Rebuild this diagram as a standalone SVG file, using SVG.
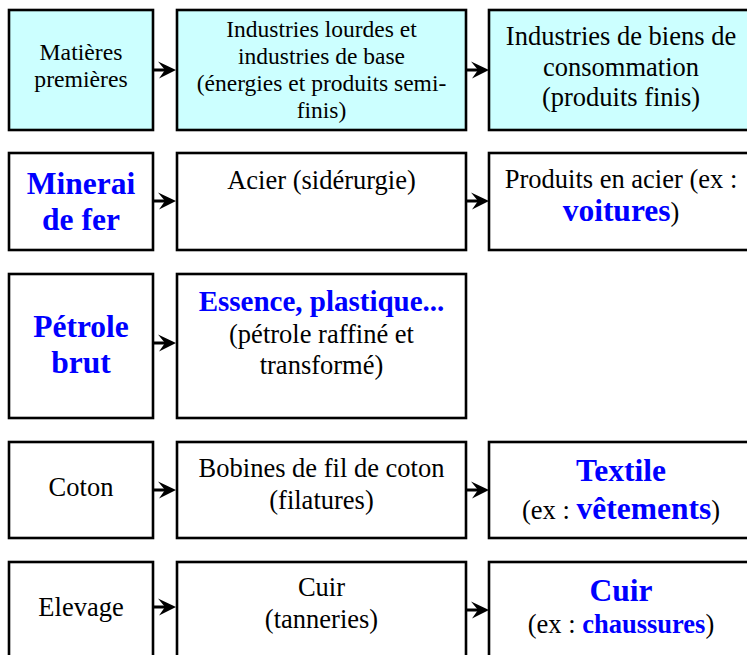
<svg xmlns="http://www.w3.org/2000/svg" width="747" height="655" viewBox="0 0 747 655">
<style>
.box{stroke:#000;stroke-width:2.6;fill:#fff}
.hd{fill:#ccffff}
text{font-family:"Liberation Serif","Times New Roman",serif;fill:#000;text-anchor:middle;font-size:26.5px}
.b{font-weight:bold;fill:#0000ff;font-size:31.5px}
.conn{stroke:#000;stroke-width:3;fill:none;marker-end:url(#ah)}
</style>
<defs>
<marker id="ah" markerUnits="userSpaceOnUse" markerWidth="19" markerHeight="18" refX="7" refY="8.5" orient="auto" overflow="visible">
<path d="M0,0 L18,8.5 L1,17 L7,8.5 Z" fill="#000"/>
</marker>
</defs>
<rect width="747" height="655" fill="#fff"/>
<g id="n-matieres"><rect class="box hd" x="9" y="10" width="144" height="120"/><text style="font-size:23.7px"><tspan x="81" y="60">Matières</tspan><tspan x="81" y="87">premières</tspan></text></g>
<g id="n-industries-base"><rect class="box hd" x="177" y="10" width="289" height="120"/><text style="font-size:23.5px"><tspan x="321.5" y="37">Industries lourdes et</tspan><tspan x="321.5" y="63.5">industries de base</tspan><tspan x="321.5" y="91">(énergies et produits semi-</tspan><tspan x="321.5" y="118">finis)</tspan></text></g>
<g id="n-biens-conso"><rect class="box hd" x="489" y="10" width="264" height="120"/><text><tspan x="621" y="44.5">Industries de biens de</tspan><tspan x="621" y="75.5">consommation</tspan><tspan x="621" y="106">(produits finis)</tspan></text></g>

<g id="n-minerai"><rect class="box" x="9" y="153" width="144" height="97"/><text class="b"><tspan x="81" y="194">Minerai</tspan><tspan x="81" y="230">de fer</tspan></text></g>
<g id="n-acier"><rect class="box" x="177" y="153" width="289" height="97"/><text x="321.5" y="189">Acier (sidérurgie)</text></g>
<g id="n-produits-acier"><rect class="box" x="489" y="153" width="264" height="97"/><text><tspan x="621" y="188">Produits en acier (ex :</tspan><tspan x="621" y="221"><tspan class="b">voitures</tspan>)</tspan></text></g>

<g id="n-petrole"><rect class="box" x="9" y="274" width="144" height="144"/><text class="b"><tspan x="81" y="337">Pétrole</tspan><tspan x="81" y="373">brut</tspan></text></g>
<g id="n-essence"><rect class="box" x="177" y="274" width="289" height="144"/><text><tspan x="321.5" y="311" class="b" style="font-size:29px">Essence, plastique...</tspan><tspan x="321.5" y="343">(pétrole raffiné et</tspan><tspan x="321.5" y="373.5">transformé)</tspan></text></g>

<g id="n-coton"><rect class="box" x="9" y="442" width="144" height="96"/><text x="81" y="496">Coton</text></g>
<g id="n-bobines"><rect class="box" x="177" y="442" width="289" height="96"/><text><tspan x="321.5" y="477">Bobines de fil de coton</tspan><tspan x="321.5" y="509">(filatures)</tspan></text></g>
<g id="n-textile"><rect class="box" x="489" y="442" width="264" height="96"/><text><tspan x="621" y="481" class="b">Textile</tspan><tspan x="621" y="519">(ex : <tspan class="b">vêtements</tspan>)</tspan></text></g>

<g id="n-elevage"><rect class="box" x="9" y="562" width="144" height="110"/><text x="81" y="616">Elevage</text></g>
<g id="n-cuir"><rect class="box" x="177" y="562" width="289" height="110"/><text><tspan x="321.5" y="596">Cuir</tspan><tspan x="321.5" y="628">(tanneries)</tspan></text></g>
<g id="n-cuir-prod"><rect class="box" x="489" y="562" width="264" height="110"/><text><tspan x="621" y="601" class="b">Cuir</tspan><tspan x="621" y="633">(ex : <tspan class="b" style="font-size:26.5px">chaussures</tspan>)</tspan></text></g>

<g id="connectors">
<line class="conn" x1="154" y1="70" x2="165" y2="70"/>
<line class="conn" x1="467" y1="70" x2="478" y2="70"/>
<line class="conn" x1="154" y1="201" x2="165" y2="201"/>
<line class="conn" x1="467" y1="201" x2="478" y2="201"/>
<line class="conn" x1="154" y1="343" x2="165" y2="343"/>
<line class="conn" x1="154" y1="490" x2="165" y2="490"/>
<line class="conn" x1="467" y1="490" x2="478" y2="490"/>
<line class="conn" x1="154" y1="607" x2="165" y2="607"/>
<line class="conn" x1="467" y1="610" x2="478" y2="610"/>
</g>
</svg>
